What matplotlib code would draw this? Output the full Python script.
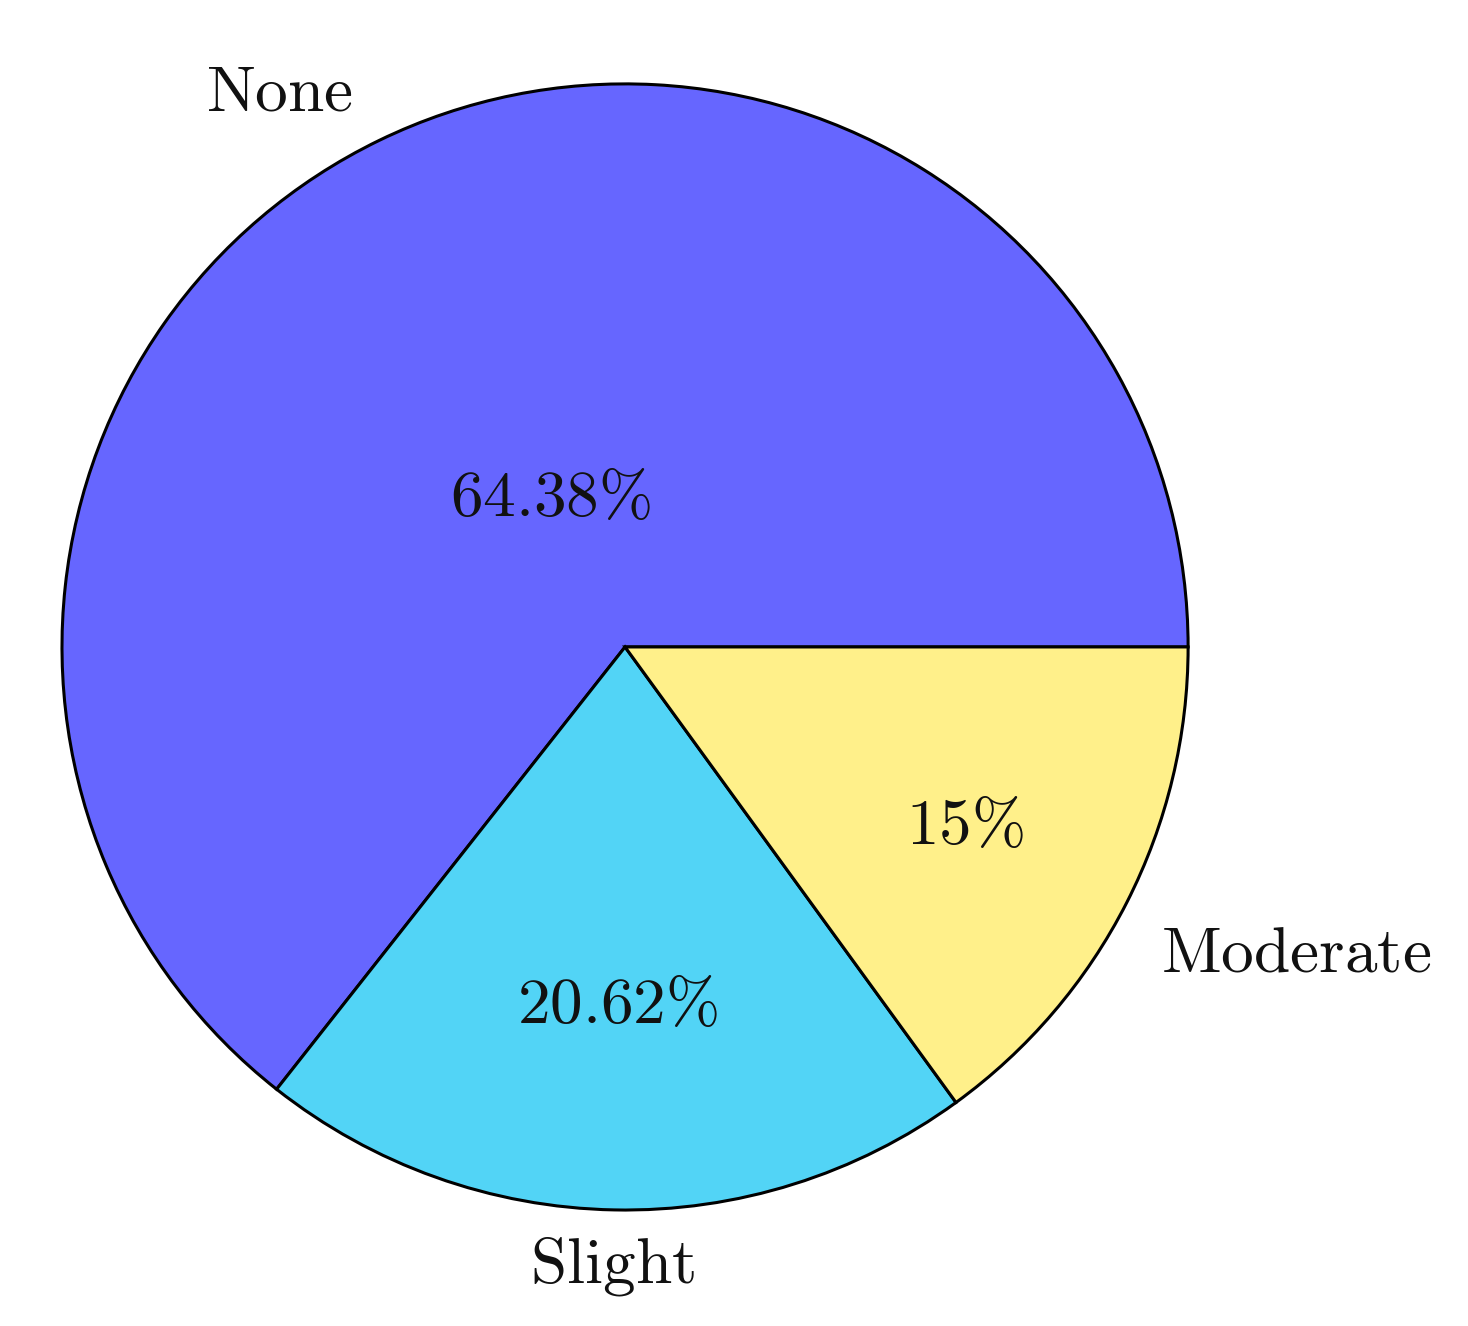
import matplotlib
matplotlib.use("Agg")
import matplotlib.pyplot as plt

# ---- data ----
categories = ["None", "Slight", "Moderate"]
values = [64.38, 20.62, 15.0]
colors = ["#6666FF", "#52D4F6", "#FFF08A"]

# ---- style / layout ----
plt.rcParams["mathtext.fontset"] = "cm"
FS = 47
label_pos = [(-0.613, 0.952), (-0.023, -1.128), (1.192, -0.577)]
pct_pos = [(-0.133, 0.233), (-0.014, -0.668), (0.604, -0.350)]

def fmt(p):
    s = f"{p:.2f}".rstrip("0").rstrip(".")
    return r"$\mathrm{" + s + r"\%}$"

fig = plt.figure(figsize=(14.68, 13.26), dpi=100)
ax = fig.add_axes([0, 0, 1, 1])
wedges, texts, autotexts = ax.pie(
    values,
    labels=[r"$\mathrm{" + c + "}$" for c in categories],
    colors=colors,
    startangle=0,
    counterclock=True,
    autopct=fmt,
    wedgeprops=dict(edgecolor="black", linewidth=2.2),
    textprops=dict(fontsize=FS, color="#111111"),
)
for t, (x, y) in zip(texts, label_pos):
    t.set_position((x, y))
    t.set_ha("center")
    t.set_va("baseline")
for t, (x, y) in zip(autotexts, pct_pos):
    t.set_position((x, y))
    t.set_ha("center")
    t.set_va("baseline")

ax.set_xlim(-1.110, 1.497)
ax.set_ylim(-1.206, 1.149)
ax.set_aspect("equal")
ax.axis("off")
fig.savefig("out.png", dpi=100)
